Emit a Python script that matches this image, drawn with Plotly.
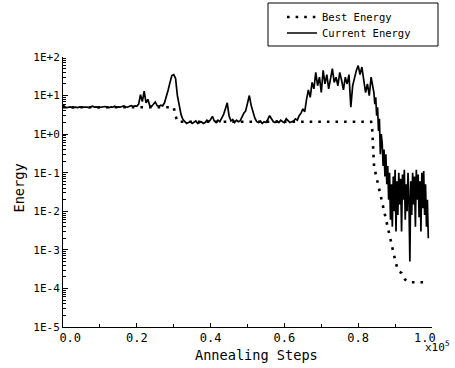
import plotly.graph_objects as go

# ---- data (x in units of 1e5 annealing steps) ----
coarse_energy = [
    # 0.000 - 0.195
    6.0, 5.0, 4.9, 5.0, 5.1, 4.9, 5.0, 5.0, 4.9, 5.1,
    5.0, 5.0, 5.2, 5.0, 4.9, 5.1, 5.3, 5.0, 5.1, 4.9,
    5.0, 5.1, 5.0, 5.2, 5.0, 4.9, 5.1, 5.0, 5.3, 5.0,
    5.1, 5.0, 5.2, 5.4, 5.1, 5.0, 5.3, 5.5, 5.2, 5.4,
    # 0.200 - 0.295
    5.3, 6.0, 10.5, 7.0, 13.0, 6.5, 8.0, 5.5, 5.2, 5.8,
    6.8, 5.5, 5.3, 5.6, 5.4, 6.5, 9.0, 14.0, 22.0, 33.0,
    # 0.300 - 0.620
    35.0, 28.0, 10.0, 5.0, 3.2, 2.4, 2.1, 1.9, 2.0, 2.1,
    1.9, 2.0, 2.2, 1.9, 2.0, 2.1, 1.9, 2.0, 2.3, 2.1,
    2.4, 2.9, 2.2, 2.0, 2.3, 2.1, 2.6, 3.2, 4.5, 6.5,
    3.0, 2.2, 2.4, 2.0, 2.3, 2.1, 2.2, 2.8, 3.5, 4.0,
    6.5, 10.0, 5.5, 3.8, 2.6, 2.1, 2.0, 2.2, 1.9, 2.1,
    2.0, 2.4, 3.0, 2.5, 2.1, 2.0, 2.2, 2.0, 2.3, 2.1,
    2.0, 2.5, 2.2, 2.0, 2.1,
    # 0.625 - 0.840
    2.2, 2.5, 2.3, 3.0, 3.5, 4.5, 3.8, 8.0, 14.0, 9.0,
    22.0, 15.0, 40.0, 18.0, 30.0, 12.0, 45.0, 20.0, 35.0, 15.0,
    25.0, 50.0, 22.0, 30.0, 18.0, 40.0, 25.0, 14.0, 30.0, 20.0,
    35.0, 5.0, 18.0, 30.0, 45.0, 60.0, 35.0, 55.0, 25.0, 12.0,
    20.0, 10.0, 30.0, 18.0,
]
# 0.8425 - 0.990, sampled every 0.0025
fine_energy = [
    12.0, 6.0, 9.0, 3.0, 5.0, 1.2, 2.5, 0.3, 1.0, 0.6,
    0.15, 0.4, 0.08, 0.3, 0.05, 0.15, 0.02, 0.1, 0.006, 0.05,
    0.004, 0.08, 0.01, 0.12, 0.003, 0.06, 0.008, 0.1, 0.015, 0.07,
    0.003, 0.09, 0.02, 0.12, 0.006, 0.05, 0.01, 0.1, 0.02, 0.0005,
    0.06, 0.008, 0.1, 0.015, 0.08, 0.004, 0.12, 0.02, 0.09, 0.007,
    0.06, 0.003, 0.1, 0.012, 0.11, 0.008, 0.05, 0.004, 0.02, 0.002,
]
current_x = [round(i * 0.005, 4) for i in range(len(coarse_energy))] + \
            [round(0.8425 + i * 0.0025, 4) for i in range(len(fine_energy))]
current_energy = coarse_energy + fine_energy

best_x = [0.0, 0.300, 0.305, 0.310, 0.835, 0.838, 0.843, 0.855, 0.861, 0.868,
          0.877, 0.886, 0.893, 0.900, 0.906, 0.912, 0.918, 0.927, 0.940, 0.985]
best_energy = [5.0, 5.0, 3.0, 2.1, 2.1, 1.3, 0.145, 0.044, 0.024, 0.011,
               0.0054, 0.0022, 0.0011, 0.00055, 0.00034, 0.00027, 0.00025, 0.00017, 0.000145, 0.000145]

x_tickvals = [0.0, 0.2, 0.4, 0.6, 0.8, 1.0]
x_ticktext = ["\u00a0\u00a00.0", "0.2", "0.4", "0.6", "0.8", "1.0\u00a0\u00a0"]
y_tickvals = [1e2, 1e1, 1e0, 1e-1, 1e-2, 1e-3, 1e-4, 1e-5]
y_ticktext = ["1E+2", "1E+1", "1E+0", "1E-1", "1E-2", "1E-3", "1E-4", "1E-5"]

FONT = "DejaVu Sans Mono"

fig = go.Figure()
fig.add_trace(go.Scatter(
    x=current_x, y=current_energy, mode="lines", name="Current Energy",
    line=dict(color="black", width=1.7), legend="legend2",
))
fig.add_trace(go.Scatter(
    x=best_x, y=best_energy, mode="lines", name="Best Energy",
    line=dict(color="black", width=2.6, dash="2.6px,6px"), legend="legend",
))

minor_y = [m * 10.0 ** e for e in range(-5, 2) for m in range(2, 10)]

leg_common = dict(
    xanchor="left", yanchor="middle",
    bgcolor="rgba(0,0,0,0)", borderwidth=0,
    font=dict(family=FONT, size=10.5, color="black"),
    itemwidth=30,
)

fig.update_layout(
    width=455, height=368,
    margin=dict(l=63, r=23, t=57, b=41, autoexpand=False),
    paper_bgcolor="white", plot_bgcolor="white",
    font=dict(family=FONT, color="black", size=11),
    showlegend=True,
    legend=dict(x=0.5935, y=(327 - 17) / 270, **leg_common),
    legend2=dict(x=0.5935, y=(327 - 33) / 270, **leg_common),
    xaxis=dict(
        range=[0, 1.0], showgrid=False, zeroline=False,
        showline=True, linecolor="black", linewidth=1,
        ticks="inside", ticklen=4, tickwidth=1, tickcolor="black",
        tickvals=x_tickvals, ticktext=x_ticktext,
        tickfont=dict(family=FONT, size=12),
        minor=dict(ticks="inside", ticklen=3, tickcolor="black", dtick=0.1, tick0=0, showgrid=False),
    ),
    yaxis=dict(
        type="log", range=[-5, 2], showgrid=False, zeroline=False,
        showline=True, linecolor="black", linewidth=1,
        ticks="inside", ticklen=5, tickwidth=1, tickcolor="black",
        tickvals=y_tickvals, ticktext=y_ticktext,
        tickfont=dict(family=FONT, size=11),
        minor=dict(ticks="inside", ticklen=3, tickcolor="black", tickvals=minor_y, showgrid=False),
    ),
    shapes=[dict(
        type="rect", xref="paper", yref="paper",
        x0=(268 - 63) / 369, x1=(438 - 63) / 369,
        y0=(327 - 46) / 270, y1=(327 - 3) / 270,
        line=dict(color="black", width=1), fillcolor="rgba(0,0,0,0)",
    )],
    annotations=[
        dict(text="Annealing Steps", xref="paper", yref="paper",
             x=(256.7 - 63) / 369, y=(327 - 355) / 270, showarrow=False,
             xanchor="center", yanchor="middle", font=dict(family=FONT, size=13.6)),
        dict(text="Energy", xref="paper", yref="paper", textangle=-90,
             x=(18.5 - 63) / 369, y=(327 - 188) / 270, showarrow=False,
             xanchor="center", yanchor="middle", font=dict(family=FONT, size=13.6)),
        dict(text="x10<sup>5</sup>", xref="paper", yref="paper",
             x=(423 - 63) / 369, y=(327 - 346) / 270, showarrow=False,
             xanchor="left", yanchor="middle", font=dict(family=FONT, size=11)),
    ],
)

fig.write_html("out.html", config={"displayModeBar": False},
               post_script="document.body.style.margin='0px';")
